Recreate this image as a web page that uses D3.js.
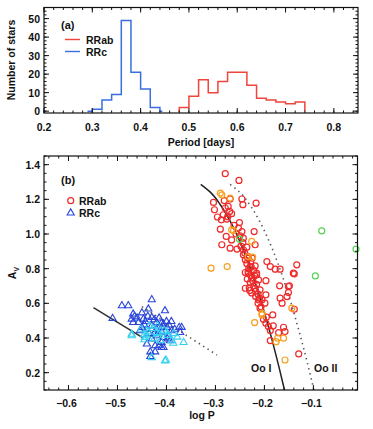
<!DOCTYPE html>
<html><head><meta charset="utf-8">
<script src="https://cdn.jsdelivr.net/npm/d3@7"></script>
<style>
html,body{margin:0;padding:0;background:#fff;}
text{font-family:"Liberation Sans",Arial,sans-serif;font-weight:bold;fill:#111;}
</style></head>
<body><svg id="c" width="373" height="429"></svg>
<script>
// ---- Panel (a) histogram data ----
const rrcBinStarts = [0.29, 0.30, 0.32, 0.34, 0.36, 0.38, 0.40, 0.42, 0.44, 0.445];
const rrcCounts    = [0,    1,    6,    9,    49,   21,   12,   2,    0,    0];
const rrabBinStarts = [0.478, 0.48, 0.50, 0.52, 0.54, 0.56, 0.58, 0.60, 0.62, 0.64, 0.66, 0.68, 0.70, 0.72, 0.74];
const rrabCounts    = [0,     2,    8,    17,   10,   16,   21,   21,   14,   7,    6,    5,    4,    5,    0];
const aXTicks = [0.2, 0.3, 0.4, 0.5, 0.6, 0.7, 0.8];
const aYTicks = [0, 10, 20, 30, 40, 50];

// ---- Panel (b) scatter data [logP, A_V] ----
const rrabRed = [[-0.280,1.348],[-0.252,1.309],[-0.270,1.202],[-0.282,1.193],[-0.304,1.182],[-0.246,1.202],[-0.244,1.169],[-0.217,1.178],[-0.274,1.159],[-0.302,1.140],[-0.267,1.117],[-0.284,1.111],[-0.296,1.098],[-0.288,1.082],[-0.277,1.086],[-0.251,1.066],[-0.290,1.028],[-0.253,1.034],[-0.246,1.014],[-0.221,1.014],[-0.278,0.986],[-0.267,0.966],[-0.243,0.976],[-0.287,0.938],[-0.219,0.938],[-0.270,0.918],[-0.256,0.913],[-0.243,0.909],[-0.236,0.924],[-0.243,0.880],[-0.233,0.870],[-0.239,0.851],[-0.195,0.841],[-0.188,0.812],[-0.178,0.797],[-0.168,0.797],[-0.134,0.822],[-0.139,0.770],[-0.229,0.812],[-0.219,0.816],[-0.233,0.774],[-0.216,0.774],[-0.226,0.745],[-0.233,0.783],[-0.216,0.764],[-0.212,0.735],[-0.229,0.720],[-0.239,0.687],[-0.230,0.674],[-0.219,0.687],[-0.197,0.731],[-0.209,0.678],[-0.197,0.649],[-0.169,0.701],[-0.149,0.701],[-0.151,0.662],[-0.154,0.639],[-0.168,0.630],[-0.164,0.601],[-0.212,0.620],[-0.199,0.601],[-0.209,0.572],[-0.139,0.566],[-0.183,0.533],[-0.202,0.508],[-0.197,0.485],[-0.192,0.466],[-0.161,0.462],[-0.188,0.443],[-0.171,0.431],[-0.158,0.437],[-0.188,0.385],[-0.130,0.308],[-0.239,0.778],[-0.141,0.774],[-0.151,0.697],[-0.213,0.653],[-0.232,0.80],[-0.228,0.76],[-0.235,0.74],[-0.222,0.70],[-0.226,0.66],[-0.218,0.64],[-0.213,0.60],[-0.207,0.58],[-0.225,0.86],[-0.240,0.89],[-0.250,0.99],[-0.262,1.05],[-0.271,1.13],[-0.280,1.15],[-0.236,0.83],[-0.228,0.84],[-0.244,0.95],[-0.258,1.00],[-0.216,0.71],[-0.205,0.62],[-0.222,0.79],[-0.231,0.69],[-0.196,0.52],[-0.182,0.47],[-0.224,0.73],[-0.220,0.76],[-0.227,0.81],[-0.218,0.67],[-0.210,0.63],[-0.234,0.86],[-0.248,0.93],[-0.275,1.10]];
const rrabOrange = [[-0.287,1.226],[-0.290,1.236],[-0.270,1.207],[-0.263,1.020],[-0.267,1.024],[-0.226,0.957],[-0.233,0.870],[-0.224,0.867],[-0.309,0.803],[-0.276,0.812],[-0.144,0.572],[-0.205,0.543],[-0.220,0.489],[-0.173,0.399],[-0.161,0.399],[-0.176,0.379],[-0.158,0.273],[-0.205,0.533]];
const rrabGreen = [[-0.251,0.970],[-0.083,1.018],[-0.096,0.758],[-0.013,0.913]];
const rrcBlue = [[-0.430,0.626],[-0.491,0.591],[-0.478,0.591],[-0.510,0.518],[-0.437,0.572],[-0.403,0.562],[-0.468,0.543],[-0.471,0.514],[-0.457,0.494],[-0.447,0.514],[-0.430,0.523],[-0.420,0.494],[-0.450,0.466],[-0.440,0.456],[-0.454,0.447],[-0.410,0.466],[-0.399,0.466],[-0.389,0.447],[-0.374,0.466],[-0.372,0.437],[-0.420,0.418],[-0.406,0.408],[-0.396,0.418],[-0.430,0.399],[-0.410,0.379],[-0.393,0.389],[-0.423,0.360],[-0.406,0.350],[-0.433,0.325],[-0.423,0.325],[-0.433,0.298],[-0.468,0.494],[-0.406,0.485],[-0.369,0.466],[-0.410,0.350],[-0.443,0.50],[-0.438,0.53],[-0.425,0.51],[-0.415,0.52],[-0.410,0.49],[-0.400,0.50],[-0.395,0.48],[-0.430,0.475],[-0.445,0.48],[-0.460,0.52],[-0.465,0.53],[-0.420,0.455],[-0.435,0.43],[-0.425,0.43],[-0.410,0.44],[-0.440,0.37],[-0.415,0.36],[-0.398,0.40],[-0.383,0.455],[-0.390,0.50],[-0.450,0.55]];
const rrcCyan = [[-0.471,0.418],[-0.444,0.408],[-0.403,0.273],[-0.365,0.379],[-0.386,0.375],[-0.440,0.418],[-0.420,0.437],[-0.430,0.292],[-0.401,0.277],[-0.389,0.389],[-0.471,0.427],[-0.438,0.44],[-0.428,0.46],[-0.415,0.43],[-0.405,0.45],[-0.398,0.42],[-0.425,0.40],[-0.445,0.395],[-0.412,0.39],[-0.435,0.475],[-0.418,0.475],[-0.400,0.44],[-0.385,0.43],[-0.378,0.41],[-0.445,0.425],[-0.452,0.455]];

// reference loci
const ooILine  = [[-0.330,1.286],[-0.310,1.240],[-0.290,1.169],[-0.270,1.074],[-0.250,0.955],[-0.230,0.811],[-0.210,0.641],[-0.190,0.447],[-0.170,0.229],[-0.159,0.100]];
const ooIILine = [[-0.270,1.286],[-0.250,1.240],[-0.230,1.169],[-0.210,1.074],[-0.190,0.955],[-0.170,0.811],[-0.150,0.641],[-0.130,0.447],[-0.110,0.229],[-0.099,0.100]];
const rrcSolidLine  = [[-0.549,0.575],[-0.447,0.399]];
const rrcDottedLine = [[-0.450,0.581],[-0.297,0.302]];
const bXTicks = [-0.6, -0.5, -0.4, -0.3, -0.2, -0.1];
const bYTicks = [0.2, 0.4, 0.6, 0.8, 1.0, 1.2, 1.4];

const svg = d3.select("#c");
const RED = "#f0443c", BLUE = "#3a6ee0";

function frame(g, x, y, majX, minX, majY, minY) {
  const [x0, x1] = x.range(), [y0, y1] = y.range(); // y0 bottom, y1 top
  const t = g.append("g").attr("stroke", "#111").attr("stroke-width", 1);
  const tick = (v, len, isX) => {
    if (isX) {
      const px = x(v);
      t.append("line").attr("x1", px).attr("x2", px).attr("y1", y0).attr("y2", y0 - len);
      t.append("line").attr("x1", px).attr("x2", px).attr("y1", y1).attr("y2", y1 + len);
    } else {
      const py = y(v);
      t.append("line").attr("x1", x0).attr("x2", x0 + len).attr("y1", py).attr("y2", py);
      t.append("line").attr("x1", x1).attr("x2", x1 - len).attr("y1", py).attr("y2", py);
    }
  };
  minX.forEach(v => tick(v, 2.5, true));
  majX.forEach(v => tick(v, 5, true));
  minY.forEach(v => tick(v, 2.5, false));
  majY.forEach(v => tick(v, 5, false));
  g.append("rect").attr("x", x0).attr("y", y1).attr("width", x1 - x0).attr("height", y0 - y1)
    .attr("fill", "none").attr("stroke", "#111").attr("stroke-width", 1.2);
}
const fmt = v => (v < 0 ? "\u2212" : "") + Math.abs(v).toFixed(1);

// ---------- Panel (a) ----------
const xa = d3.scaleLinear([0.2, 0.85], [44, 358]);
const ya = d3.scaleLinear([-1, 56], [113, 7.5]);
const ga = svg.append("g");
const stepLine = d3.line().x(d => xa(d[0])).y(d => ya(d[1])).curve(d3.curveStepAfter);
ga.append("path").datum(rrcBinStarts.map((b, i) => [b, rrcCounts[i]]))
  .attr("d", stepLine).attr("fill", "none").attr("stroke", BLUE).attr("stroke-width", 1.5);
ga.append("path").datum(rrabBinStarts.map((b, i) => [b, rrabCounts[i]]))
  .attr("d", stepLine).attr("fill", "none").attr("stroke", RED).attr("stroke-width", 1.5);
frame(ga, xa, ya, aXTicks, d3.range(0.2, 0.851, 0.02), aYTicks, d3.range(0, 55, 2));
ga.selectAll(".xl").data(aXTicks).join("text").attr("x", d => xa(d)).attr("y", 131)
  .attr("text-anchor", "middle").attr("font-size", 10.5).text(d => d.toFixed(1));
ga.selectAll(".yl").data(aYTicks).join("text").attr("x", 40).attr("y", d => ya(d) + 4)
  .attr("text-anchor", "end").attr("font-size", 10.5).text(d => d);
ga.append("text").attr("x", 201).attr("y", 146).attr("text-anchor", "middle").attr("font-size", 10.5).text("Period [days]");
ga.append("text").attr("transform", "translate(15,60) rotate(-90)").attr("text-anchor", "middle").attr("font-size", 10.5).text("Number of stars");
ga.append("text").attr("x", 61).attr("y", 29).attr("font-size", 11).text("(a)");
ga.append("line").attr("x1", 65).attr("x2", 80).attr("y1", 39.5).attr("y2", 39.5).attr("stroke", RED).attr("stroke-width", 1.4);
ga.append("line").attr("x1", 65).attr("x2", 80).attr("y1", 51.5).attr("y2", 51.5).attr("stroke", BLUE).attr("stroke-width", 1.4);
ga.append("text").attr("x", 86).attr("y", 43.5).attr("font-size", 10.5).text("RRab");
ga.append("text").attr("x", 86).attr("y", 55.5).attr("font-size", 10.5).text("RRc");

// ---------- Panel (b) ----------
const xb = d3.scaleLinear([-0.65, -0.01], [44, 357.5]);
const yb = d3.scaleLinear([0.1, 1.45], [390, 156]);
const gb = svg.append("g");
const ln = d3.line().x(d => xb(d[0])).y(d => yb(d[1])).curve(d3.curveMonotoneY);
const ln2 = d3.line().x(d => xb(d[0])).y(d => yb(d[1]));
gb.append("path").datum(rrcSolidLine).attr("d", ln2).attr("fill", "none").attr("stroke", "#333").attr("stroke-width", 1.6);
gb.append("path").datum(rrcDottedLine).attr("d", ln2).attr("fill", "none").attr("stroke", "#555").attr("stroke-width", 1.6).attr("stroke-dasharray", "1.4,3.8");
gb.append("path").datum(ooIILine).attr("d", ln).attr("fill", "none").attr("stroke", "#555").attr("stroke-width", 1.6).attr("stroke-dasharray", "1.4,3.8");
gb.append("path").datum(ooILine).attr("d", ln).attr("fill", "none").attr("stroke", "#222").attr("stroke-width", 1.5);

const tri = d3.symbol().type(d3.symbolTriangle).size(22);
function tris(data, col) {
  gb.append("g").selectAll("path").data(data).join("path").attr("d", tri)
    .attr("transform", d => `translate(${xb(d[0])},${yb(d[1]) + 0.8})`)
    .attr("fill", "none").attr("stroke", col).attr("stroke-width", 1.1);
}
function circs(data, col) {
  gb.append("g").selectAll("circle").data(data).join("circle")
    .attr("cx", d => xb(d[0])).attr("cy", d => yb(d[1])).attr("r", 3)
    .attr("fill", "none").attr("stroke", col).attr("stroke-width", 1.2);
}
tris(rrcBlue, "#2a46d8");
tris(rrcCyan, "#36d0ee");
circs(rrabRed, "#ee2a2a");
circs(rrabOrange, "#f7a020");
circs(rrabGreen, "#55d455");

frame(gb, xb, yb, bXTicks, d3.range(-0.64, -0.01, 0.02), bYTicks, d3.range(0.1, 1.451, 0.05));
gb.selectAll(".xl").data(bXTicks).join("text").attr("x", d => xb(d) - 2).attr("y", 407)
  .attr("text-anchor", "middle").attr("font-size", 10.5).text(fmt);
gb.selectAll(".yl").data(bYTicks).join("text").attr("x", 40).attr("y", d => yb(d) + 4)
  .attr("text-anchor", "end").attr("font-size", 10.5).text(d => d.toFixed(1));
gb.append("text").attr("x", 202).attr("y", 419).attr("text-anchor", "middle").attr("font-size", 10.5).text("log P");
const yt = gb.append("text").attr("transform", "translate(16,273) rotate(-90)").attr("text-anchor", "middle").attr("font-size", 10.5);
yt.append("tspan").text("A");
yt.append("tspan").attr("font-size", 7).attr("dy", 2.5).text("V");
gb.append("text").attr("x", 61).attr("y", 184).attr("font-size", 11).text("(b)");
gb.append("circle").attr("cx", 70.7).attr("cy", 200.7).attr("r", 3).attr("fill", "none").attr("stroke", "#ee2a2a").attr("stroke-width", 1.2);
gb.append("path").attr("d", tri).attr("transform", "translate(70.7,213)").attr("fill", "none").attr("stroke", "#2a46d8").attr("stroke-width", 1.1);
gb.append("text").attr("x", 79).attr("y", 204.5).attr("font-size", 10.5).text("RRab");
gb.append("text").attr("x", 79).attr("y", 216.5).attr("font-size", 10.5).text("RRc");
gb.append("text").attr("x", 251).attr("y", 372).attr("font-size", 10.5).text("Oo I");
gb.append("text").attr("x", 314).attr("y", 372).attr("font-size", 10.5).text("Oo II");
</script></body></html>
